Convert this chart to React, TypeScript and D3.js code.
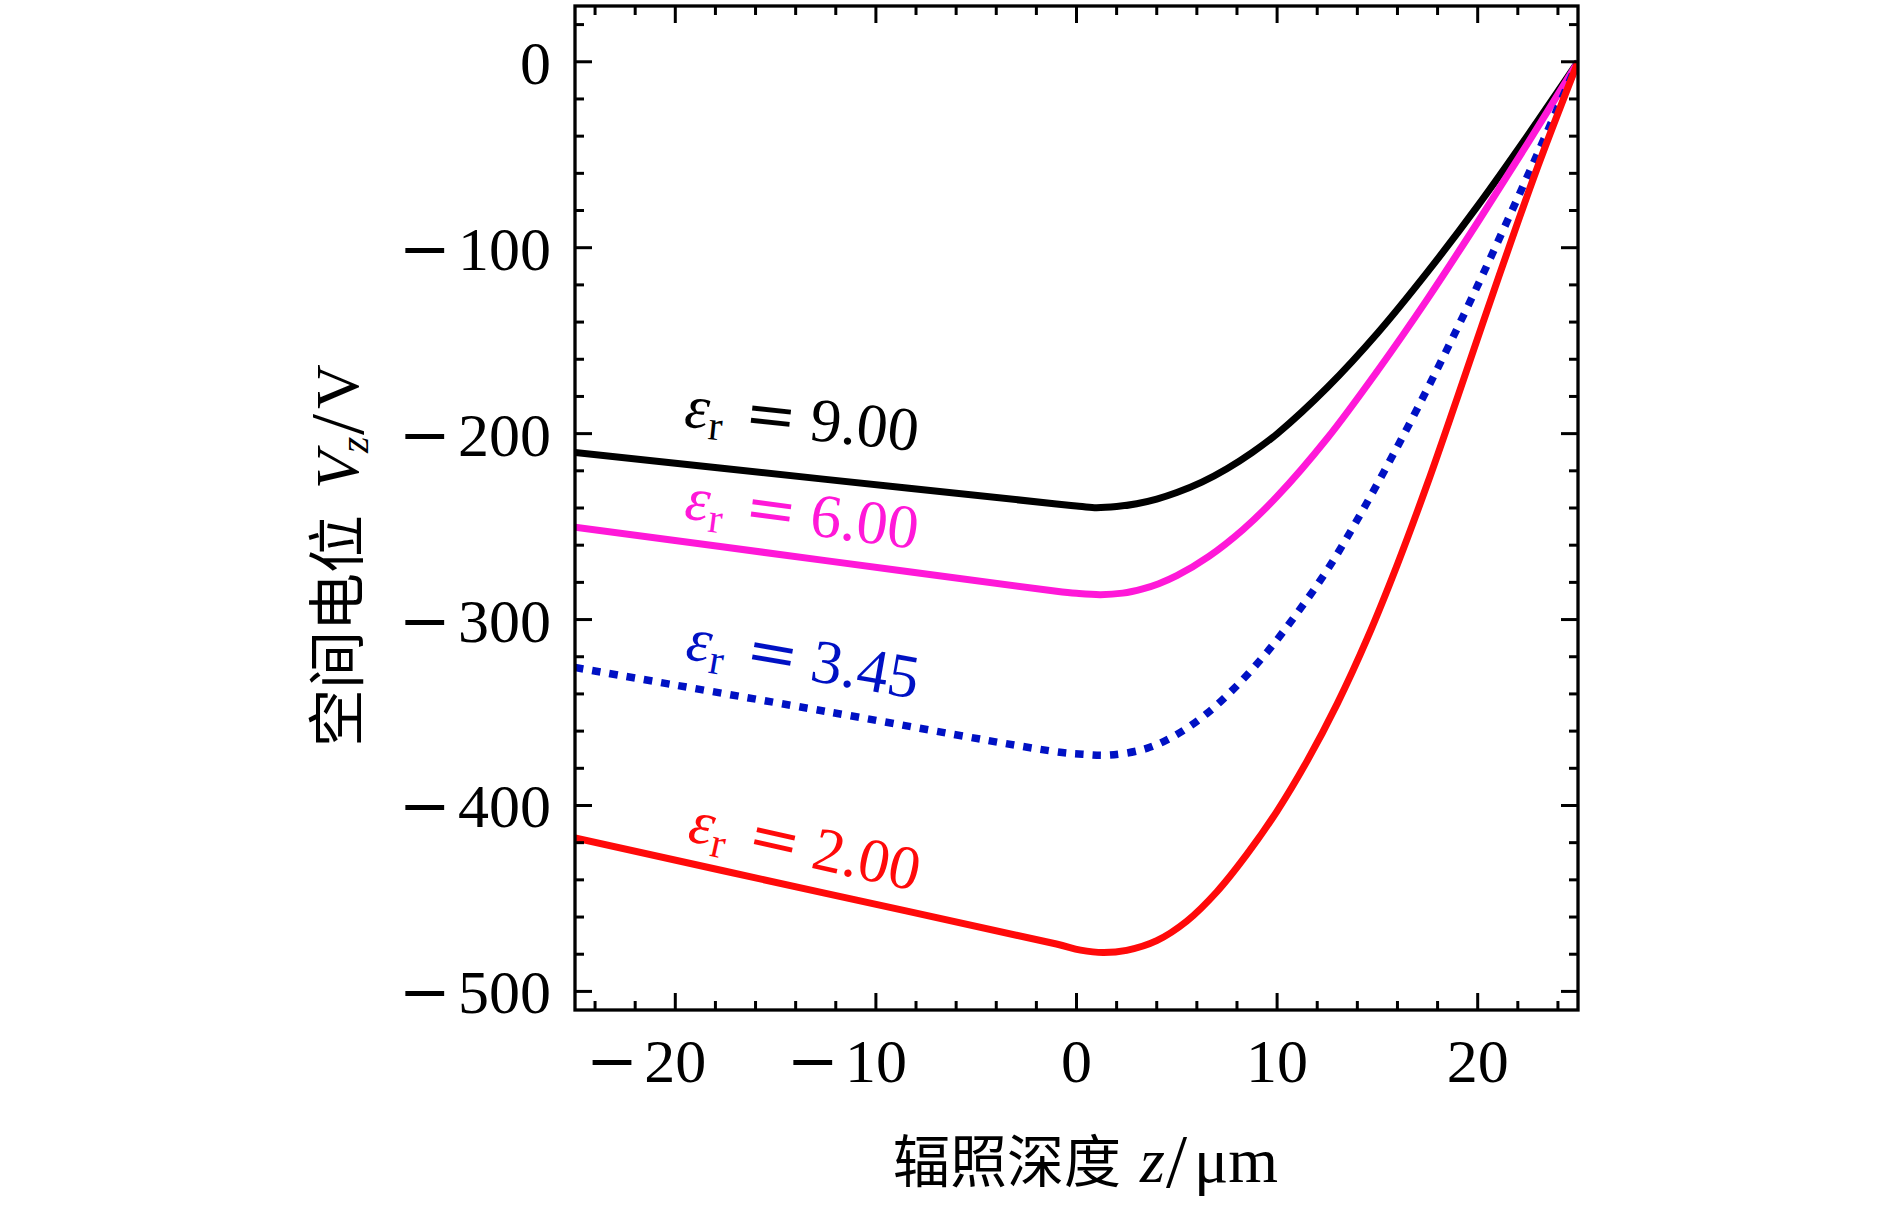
import * as d3 from "d3";

// z (μm) and V (V), one pair of arrays per curve
const zEps9 = [-25, -12.5, -1, 0, 0.9, 2, 3, 4, 5, 6.25, 7.5, 8.75, 10, 12.5, 15, 17.5, 20, 22.5, 25];
const vEps9 = [-210.1, -224.6, -237.8, -238.9, -239.8, -239.2, -237.7, -235.2, -231.7, -226.1, -218.9, -210.2, -200.1, -175.2, -146, -113, -77.5, -39.5, 0];

const zEps6 = [-25, -12.5, -1, 0, 1.2, 2.3, 3.3, 4.1, 5, 6.6, 8.3, 10, 12.5, 15, 17.5, 20, 22.5, 25];
const vEps6 = [-250.3, -268.3, -284.8, -285.9, -286.6, -285.8, -283.5, -280.7, -276.4, -266, -251.6, -233.8, -202.5, -166.3, -127.5, -86.3, -43.8, 0];

const zEps345 = [-25, -12.5, -1, 0.3, 1.66, 3.5, 5, 6.5, 8, 9.5, 11, 12.5, 14, 15.5, 17, 18.5, 20, 21.5, 23, 25];
const vEps345 = [-325.8, -349.4, -371.1, -372.4, -372.9, -369.3, -361.8, -350.5, -335.5, -317.5, -296.5, -273.3, -246.3, -217, -186.3, -154, -120.3, -85, -49, 0];

const zEps2 = [-25, -12.5, -1, 0.2, 1.33, 2.5, 4, 5.5, 7, 8.5, 10, 11.5, 13, 14.5, 16, 17.5, 19, 21, 23, 25];
const vEps2 = [-417.4, -447.3, -474.5, -477.8, -479.1, -477.9, -472.7, -462.2, -446.4, -426.2, -403, -376, -345.2, -310, -270.2, -226.7, -180.2, -117.2, -56.2, 0];

const epsValues = ["9.00", "6.00", "3.45", "2.00"];
const seriesColors = ["#000000", "#ff18d8", "#0011c4", "#ff0a0a"];
// annotation anchors in data units (start of each ε_r label)
const labelZ = [-19.6, -19.6, -19.55, -19.45];
const labelV = [-196.1, -245.5, -320.9, -418.8];

const xTicks = [-20, -10, 0, 10, 20];
const yTicks = [-500, -400, -300, -200, -100, 0];

const width = 1890;
const height = 1205;
const plot = { left: 575, right: 1578, top: 6, bottom: 1010 };

const serif = "'Liberation Serif', 'Times New Roman', serif";
const mathSym = "'DejaVu Serif', serif";
const cjk = "'Noto Sans CJK SC', 'Noto Sans CJK JP', sans-serif";

export default function App() {
  const x = d3.scaleLinear().domain([-25, 25]).range([plot.left, plot.right]);
  const y = d3.scaleLinear().domain([-510, 30]).range([plot.bottom, plot.top]);

  const series = [
    { z: zEps9, v: vEps9, dotted: false },
    { z: zEps6, v: vEps6, dotted: false },
    { z: zEps345, v: vEps345, dotted: true },
    { z: zEps2, v: vEps2, dotted: false },
  ];

  const line = d3
    .line<[number, number]>()
    .x((d) => x(d[0]))
    .y((d) => y(d[1]))
    .curve(d3.curveCatmullRom.alpha(0.5));

  const xMinor = d3.range(-24, 25, 2).filter((t) => t % 10 !== 0);
  const yMinor = d3.range(-500, 21, 20).filter((t) => t % 100 !== 0);

  const major = 17;
  const minor = 9;

  return (
    <svg
      width={width}
      height={height}
      style={{ position: "absolute", left: 0, top: 0, background: "#fff" }}
    >
      <defs>
        <clipPath id="plotArea">
          <rect x={plot.left} y={plot.top} width={plot.right - plot.left} height={plot.bottom - plot.top} />
        </clipPath>
      </defs>

      {/* curves */}
      <g clipPath="url(#plotArea)">
        {series.map((s, i) => (
          <path
            key={i}
            d={line(s.z.map((z, j) => [z, s.v[j]] as [number, number])) || ""}
            fill="none"
            stroke={seriesColors[i]}
            strokeWidth={s.dotted ? 7.5 : 7}
            strokeDasharray={s.dotted ? "8.5 9" : undefined}
            strokeLinejoin="round"
          />
        ))}
      </g>

      {/* ε_r labels, rotated along the straight part of each curve */}
      {series.map((s, i) => {
        const dx = x(s.z[2]) - x(s.z[0]);
        const dy = y(s.v[2]) - y(s.v[0]);
        const angle = (Math.atan2(dy, dx) * 180) / Math.PI;
        return (
          <g
            key={i}
            transform={`translate(${x(labelZ[i])},${y(labelV[i])}) rotate(${angle})`}
            fill={seriesColors[i]}
          >
            <text fontFamily={serif} fontSize={62}>
              <tspan x={0} fontStyle="italic">ε</tspan>
              <tspan x={25} dy={10} fontSize={42}>r</tspan>
              <tspan x={60} dy={-10} fontFamily={mathSym}>=</tspan>
              <tspan x={126}>{epsValues[i]}</tspan>
            </text>
          </g>
        );
      })}

      {/* ticks, inward on all four sides */}
      <g stroke="#000" strokeWidth={3}>
        {xTicks.map((t) => (
          <g key={`xm${t}`}>
            <line x1={x(t)} x2={x(t)} y1={plot.bottom} y2={plot.bottom - major} />
            <line x1={x(t)} x2={x(t)} y1={plot.top} y2={plot.top + major} />
          </g>
        ))}
        {xMinor.map((t) => (
          <g key={`xn${t}`}>
            <line x1={x(t)} x2={x(t)} y1={plot.bottom} y2={plot.bottom - minor} />
            <line x1={x(t)} x2={x(t)} y1={plot.top} y2={plot.top + minor} />
          </g>
        ))}
        {yTicks.map((t) => (
          <g key={`ym${t}`}>
            <line x1={plot.left} x2={plot.left + major} y1={y(t)} y2={y(t)} />
            <line x1={plot.right} x2={plot.right - major} y1={y(t)} y2={y(t)} />
          </g>
        ))}
        {yMinor.map((t) => (
          <g key={`yn${t}`}>
            <line x1={plot.left} x2={plot.left + minor} y1={y(t)} y2={y(t)} />
            <line x1={plot.right} x2={plot.right - minor} y1={y(t)} y2={y(t)} />
          </g>
        ))}
      </g>

      {/* frame */}
      <rect
        x={plot.left}
        y={plot.top}
        width={plot.right - plot.left}
        height={plot.bottom - plot.top}
        fill="none"
        stroke="#000"
        strokeWidth={3.3}
      />

      {/* y tick labels */}
      {yTicks.map((t) => (
        <text key={`yl${t}`} x={551} y={y(t) + 22} textAnchor="end" fontFamily={serif} fontSize={62} fill="#000">
          {t < 0 && <tspan fontFamily={mathSym}>−</tspan>}
          <tspan dx={t < 0 ? 7 : 0}>{Math.abs(t)}</tspan>
        </text>
      ))}

      {/* x tick labels: digits centred on the tick, minus hung to the left */}
      {xTicks.map((t) => (
        <g key={`xl${t}`} fontFamily={serif} fontSize={62} fill="#000">
          <text x={x(t)} y={1082} textAnchor="middle">
            {Math.abs(t)}
          </text>
          {t < 0 && (
            <text x={x(t) - 37} y={1082} textAnchor="end" fontFamily={mathSym}>
              −
            </text>
          )}
        </g>
      ))}

      {/* axis titles */}
      <text y={1182} fontSize={57} fill="#000">
        <tspan x={893} fontFamily={cjk}>辐照深度</tspan>
        <tspan x={1140} fontFamily={serif} fontStyle="italic" fontSize={64}>z</tspan>
        <tspan x={1166} y={1187} fontFamily={serif} fontSize={76}>/</tspan>
        <tspan x={1194} y={1182} fontFamily={serif} fontSize={64}>μm</tspan>
      </text>

      <g transform="translate(358,747) rotate(-90)">
        <text fill="#000">
          <tspan x={0} fontFamily={cjk} fontSize={58}>空间电位</tspan>
          <tspan x={258} fontFamily={serif} fontStyle="italic" fontSize={62}>V</tspan>
          <tspan x={294} dy={10} fontFamily={serif} fontStyle="italic" fontSize={42}>z</tspan>
          <tspan x={312} dy={-5} fontFamily={serif} fontSize={76}>/</tspan>
          <tspan x={338} dy={-5} fontFamily={serif} fontSize={62}>V</tspan>
        </text>
      </g>
    </svg>
  );
}
